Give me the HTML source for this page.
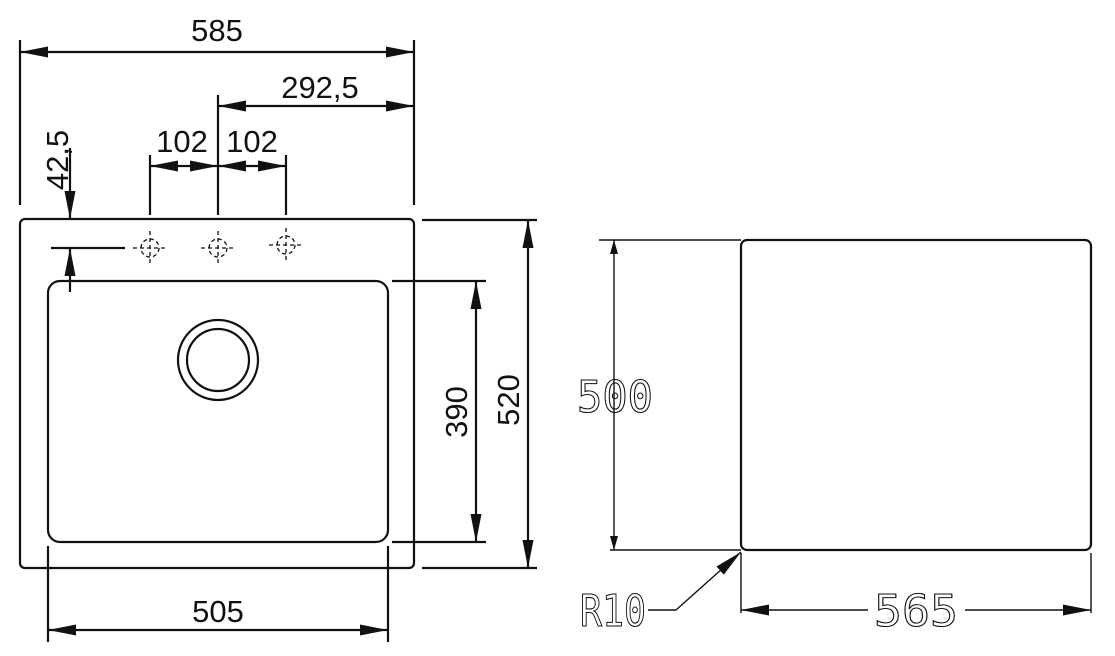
<!DOCTYPE html>
<html><head><meta charset="utf-8"><style>
html,body{margin:0;padding:0;background:#fff;}
svg{display:block;}
.t{font-family:"Liberation Sans",sans-serif;font-size:31px;fill:#111;}
.c{font-family:"DejaVu Sans Mono","Liberation Mono",monospace;font-size:44px;fill:none;stroke:#111;stroke-width:1.1;}
</style></head><body>
<svg width="1115" height="656" viewBox="0 0 1115 656" xmlns="http://www.w3.org/2000/svg">
<defs>
<marker id="a" viewBox="0 0 10 10" refX="10" refY="5" markerWidth="14" markerHeight="8" markerUnits="userSpaceOnUse" orient="auto-start-reverse" preserveAspectRatio="none"><path d="M0,0 L10,5 L0,10 z" fill="#111"/></marker>
<marker id="b" viewBox="0 0 10 10" refX="10" refY="5" markerWidth="28" markerHeight="11" markerUnits="userSpaceOnUse" orient="auto-start-reverse" preserveAspectRatio="none"><path d="M0,0 L10,5 L0,10 z" fill="#111"/></marker>
</defs>
<g stroke="#111" stroke-width="2.2" fill="none">
<rect x="20" y="219" width="394" height="349" rx="5"/>
<rect x="48" y="281" width="340" height="261" rx="12"/>
<circle cx="218" cy="360" r="40"/>
<circle cx="218" cy="360" r="31"/>
<line x1="20" y1="40" x2="20" y2="205"/>
<line x1="414" y1="40" x2="414" y2="205"/>
<line x1="20" y1="52" x2="414" y2="52" marker-start="url(#b)" marker-end="url(#b)"/>
<line x1="218" y1="95" x2="218" y2="215"/>
<line x1="218" y1="106" x2="414" y2="106" marker-start="url(#b)" marker-end="url(#b)"/>
<line x1="150" y1="155" x2="150" y2="215"/>
<line x1="286" y1="155" x2="286" y2="215"/>
<line x1="150" y1="166" x2="183" y2="166" marker-start="url(#b)"/>
<line x1="183" y1="166" x2="218" y2="166" marker-end="url(#b)"/>
<line x1="218" y1="166" x2="252" y2="166" marker-start="url(#b)"/>
<line x1="252" y1="166" x2="286" y2="166" marker-end="url(#b)"/>
<line x1="70" y1="148" x2="70" y2="219" marker-end="url(#b)"/>
<line x1="70" y1="292" x2="70" y2="248" marker-end="url(#b)"/>
<line x1="51" y1="248" x2="125" y2="248"/>
<line x1="392" y1="281" x2="486" y2="281"/>
<line x1="392" y1="542" x2="486" y2="542"/>
<line x1="476" y1="281" x2="476" y2="542" marker-start="url(#b)" marker-end="url(#b)"/>
<line x1="422" y1="220" x2="537" y2="220"/>
<line x1="422" y1="568" x2="537" y2="568"/>
<line x1="528" y1="220" x2="528" y2="568" marker-start="url(#b)" marker-end="url(#b)"/>
<line x1="48" y1="546" x2="48" y2="642"/>
<line x1="388" y1="546" x2="388" y2="642"/>
<line x1="48" y1="630" x2="388" y2="630" marker-start="url(#b)" marker-end="url(#b)"/>
</g>
<g stroke="#111" stroke-width="1.3" fill="none" stroke-dasharray="4,3">
<circle cx="150" cy="248" r="9"/><line x1="133" y1="248" x2="168" y2="248"/><line x1="150" y1="231" x2="150" y2="265"/>
<circle cx="218" cy="248" r="9"/><line x1="201" y1="248" x2="236" y2="248"/><line x1="218" y1="231" x2="218" y2="265"/>
<circle cx="286" cy="245" r="9"/><line x1="269" y1="245" x2="304" y2="245"/><line x1="286" y1="228" x2="286" y2="262"/>
</g>
<text class="t" x="217" y="41" text-anchor="middle">585</text>
<text class="t" x="320" y="98" text-anchor="middle">292,5</text>
<text class="t" x="182" y="152" text-anchor="middle">102</text>
<text class="t" x="252" y="152" text-anchor="middle">102</text>
<text class="t" transform="translate(68,160) rotate(-90)" text-anchor="middle">42,5</text>
<text class="t" transform="translate(467,412) rotate(-90)" text-anchor="middle">390</text>
<text class="t" transform="translate(519,400) rotate(-90)" text-anchor="middle">520</text>
<text class="t" x="218" y="622" text-anchor="middle">505</text>
<g stroke="#111" fill="none">
<rect x="741" y="240" width="350" height="310" rx="6" stroke-width="2.2"/>
<g stroke-width="1.4">
<line x1="599" y1="240" x2="741" y2="240"/>
<line x1="610" y1="550" x2="741" y2="550"/>
<line x1="614" y1="240" x2="614" y2="550" marker-start="url(#a)" marker-end="url(#a)"/>
<line x1="741" y1="553" x2="741" y2="613"/>
<line x1="1091" y1="553" x2="1091" y2="613"/>
<line x1="741" y1="610" x2="868" y2="610" marker-start="url(#b)"/>
<line x1="965" y1="610" x2="1091" y2="610" marker-end="url(#b)"/>
<line x1="648" y1="610" x2="676" y2="610"/>
<line x1="676" y1="610" x2="741" y2="552" marker-end="url(#b)"/>
</g></g>
<text class="c" x="615" y="412" text-anchor="middle" textLength="76" lengthAdjust="spacingAndGlyphs">500</text>
<text class="c" x="916" y="626" text-anchor="middle" textLength="84" lengthAdjust="spacingAndGlyphs">565</text>
<text class="c" x="613" y="626" text-anchor="middle" textLength="66" lengthAdjust="spacingAndGlyphs">R10</text>
</svg>
</body></html>
